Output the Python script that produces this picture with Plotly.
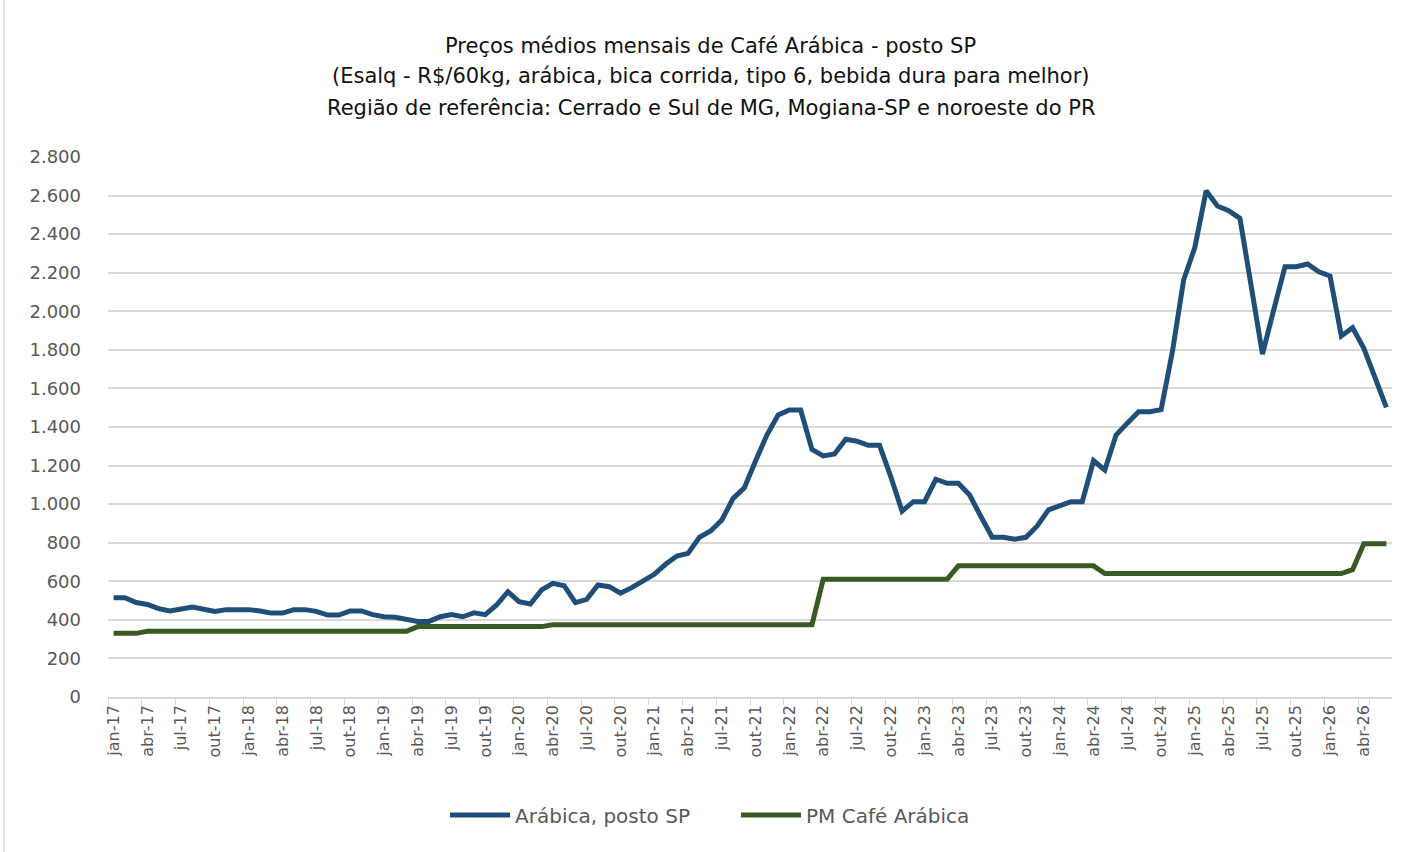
import plotly.graph_objects as go

months = ["jan", "fev", "mar", "abr", "mai", "jun", "jul", "ago", "set", "out", "nov", "dez"]
years = ["17", "18", "19", "20", "21", "22", "23", "24", "25", "26"]
categories = [f"{m}-{y}" for y in years for m in months][:114]

arabica_sp = [
    515, 515, 490, 480, 458, 446, 456, 467, 455, 444, 453, 453,
    453, 446, 435, 435, 453, 453, 444, 425, 425, 446, 446, 427,
    416, 413, 403, 392, 392, 416, 428, 416, 437, 427, 477, 546,
    494, 482, 555, 589, 577, 489, 506, 581, 572, 538, 567, 598,
    636, 688, 731, 745, 828, 861, 918, 1030, 1085, 1225, 1358, 1462,
    1488, 1488, 1284, 1250, 1260, 1336, 1326, 1305, 1305, 1142, 964, 1013,
    1013, 1129, 1108, 1108, 1047, 936, 828, 828, 818, 828, 887, 970,
    990, 1013, 1013, 1225, 1177, 1358, 1420, 1479, 1479, 1490, 1790, 2162,
    2332, 2625, 2546, 2522, 2482, 2110, 1778, 2007, 2231, 2231, 2245, 2205,
    2183, 1872, 1915, 1808, 1652, 1502,
]

pm_arabica = (
    [330, 330, 330] + [341] * 24 + [365] * 12 + [375] * 24 + [610] * 12
    + [680] * 13 + [640] * 22 + [660] + [795] * 3
)

title_lines = [
    "Preços médios mensais de Café Arábica - posto SP",
    "(Esalq - R$/60kg, arábica, bica corrida, tipo 6, bebida dura para melhor)",
    "Região de referência: Cerrado e Sul de MG, Mogiana-SP e noroeste do PR",
]

tick_labels = categories[::3]

fig = go.Figure()
fig.add_trace(go.Scatter(
    x=categories, y=arabica_sp, mode="lines", name="Arábica, posto SP",
    line=dict(color="#1F4E79", width=5),
))
fig.add_trace(go.Scatter(
    x=categories, y=pm_arabica, mode="lines", name="PM Café Arábica",
    line=dict(color="#3B5A23", width=5),
))

font_fam = "DejaVu Sans, Liberation Sans, sans-serif"

annots = []
for txt, yp in zip(title_lines, [1.2056, 1.15, 1.0907]):
    annots.append(dict(
        text=txt, xref="paper", yref="paper", x=0.4696, y=yp,
        xanchor="center", yanchor="middle", showarrow=False,
        font=dict(family=font_fam, size=21, color="#111111"),
    ))

fig.update_layout(
    width=1413, height=852,
    paper_bgcolor="white", plot_bgcolor="white",
    margin=dict(l=108, r=21, t=157, b=155),
    font=dict(family=font_fam, color="#595959"),
    showlegend=True,
    legend=dict(
        orientation="h", x=0.2625, xanchor="left", y=-0.2185, yanchor="middle",
        font=dict(size=20, color="#595959"), itemwidth=60,
        entrywidth=216, entrywidthmode="pixels",
    ),
    annotations=annots,
    xaxis=dict(
        type="category", range=[-0.5, 113.5],
        tickmode="array", tickvals=tick_labels, ticktext=tick_labels,
        tickangle=-90, tickfont=dict(size=16, color="#595959"),
        showgrid=False, showline=True, linecolor="#D9D9D9", linewidth=1.5,
        ticks="outside", ticklen=6, tickcolor="#D9D9D9", tickson="boundaries",
        zeroline=False,
    ),
    yaxis=dict(
        range=[0, 2800], dtick=200, tickformat=",d",
        tickfont=dict(size=18, color="#595959"),
        showgrid=True, gridcolor="#D9D9D9", gridwidth=1.5,
        zeroline=False, showline=False, ticks="", ticklabelstandoff=26,
    ),
    separators=",.",
    shapes=[dict(type="line", xref="paper", yref="paper",
                 x0=-0.081, x1=-0.081, y0=-0.3, y1=1.3,
                 line=dict(color="#D9D9D9", width=1.5))],
)

fig.write_html("out.html", config={"displayModeBar": False},
               post_script="document.body.style.margin='0';")
